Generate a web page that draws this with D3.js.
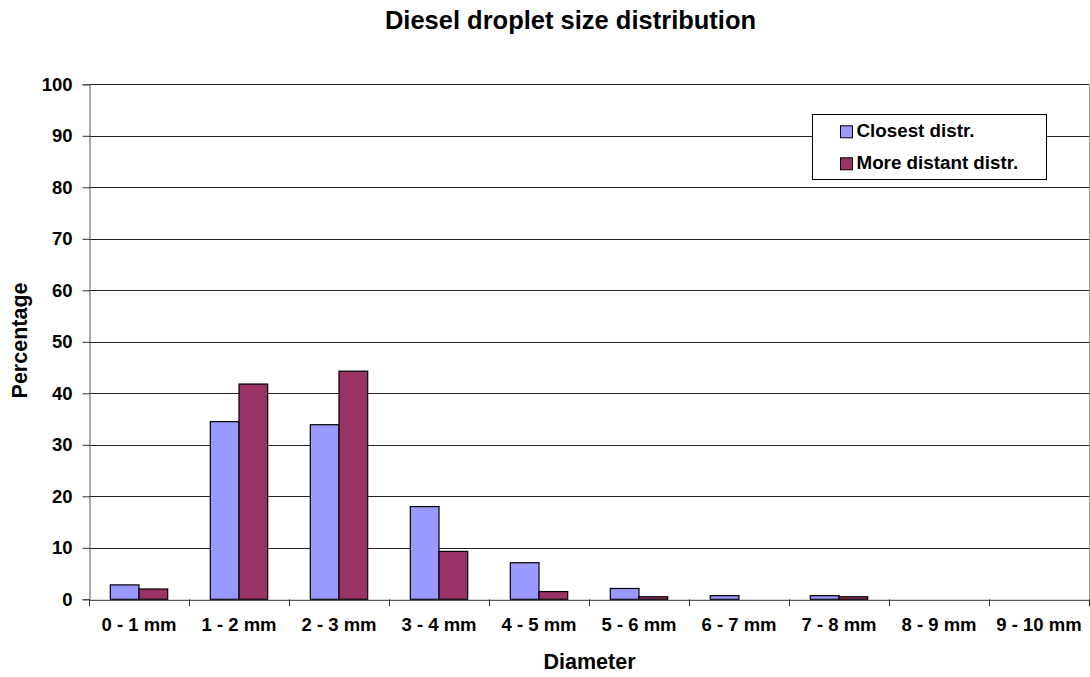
<!DOCTYPE html>
<html><head><meta charset="utf-8">
<script src="https://cdn.jsdelivr.net/npm/d3@7"></script>
<style>body{margin:0;background:#fff}svg{display:block;font-family:Arial,"Liberation Sans",sans-serif}</style>
</head><body><svg id="c" width="1090" height="677"></svg>
<script>
const categories = ["0 - 1 mm","1 - 2 mm","2 - 3 mm","3 - 4 mm","4 - 5 mm","5 - 6 mm","6 - 7 mm","7 - 8 mm","8 - 9 mm","9 - 10 mm"];
const closest = [2.8, 34.5, 33.9, 18.0, 7.1, 2.1, 0.7, 0.7, 0, 0];
const distant = [2.0, 41.8, 44.3, 9.3, 1.5, 0.5, 0, 0.5, 0, 0];
const seriesNames = ["Closest distr.", "More distant distr."];
const seriesColors = ["#9999FF", "#993366"];
const yTicks = [0,10,20,30,40,50,60,70,80,90,100];

const FONT = "Arial, 'Liberation Sans', sans-serif";
const svg = d3.select("#c");
const m = {l:89, r:1089, t:84.3, b:599.3};
const x = d3.scaleBand().domain(categories).range([m.l, m.r]).paddingInner(0).paddingOuter(0);
const y = d3.scaleLinear().domain([0,100]).range([m.b, m.t]);

// gridlines
svg.append("g").selectAll("line").data(yTicks.filter(d=>d>0)).join("line")
  .attr("x1", m.l).attr("x2", m.r).attr("y1", d=>Math.round(y(d))+0.5).attr("y2", d=>Math.round(y(d))+0.5)
  .attr("stroke","#222").attr("stroke-width",1);
// right border
svg.append("line").attr("x1",m.r+0.5).attr("x2",m.r+0.5).attr("y1",m.t).attr("y2",m.b).attr("stroke","#999");

// bars
const data = [closest, distant];
const bandPad = 0.213 * x.bandwidth(), barW = 0.287 * x.bandwidth();
data.forEach((vals, si) => {
  const pts = vals.map((v,i) => ({v, c: categories[i]})).filter(d => d.v > 0);
  svg.append("g").selectAll("rect").data(pts).join("rect")
    .attr("x", d => x(d.c) + bandPad + si*barW)
    .attr("y", d => y(d.v))
    .attr("width", barW)
    .attr("height", d => m.b - y(d.v))
    .attr("fill", seriesColors[si])
    .attr("stroke", "#000").attr("stroke-width", 1.2);
});

// y axis
const yAxis = svg.append("g").attr("transform",`translate(${m.l+0.5},0)`)
  .call(d3.axisLeft(y).tickValues(yTicks).tickSize(7).tickPadding(10));
yAxis.select(".domain").attr("stroke","#555");
yAxis.selectAll(".tick line").attr("stroke","#333");
yAxis.selectAll("text").attr("font-size",18.5).attr("font-weight","bold").attr("fill","#000").attr("font-family",FONT);

// x axis
const xAxis = svg.append("g").attr("transform",`translate(0,${m.b+0.5})`)
  .call(d3.axisBottom(x).tickSize(0).tickPadding(18));
xAxis.select(".domain").attr("stroke","#333");
xAxis.selectAll("text").attr("font-size",18.5).attr("font-weight","bold").attr("fill","#000").attr("font-family",FONT);
const bounds = categories.map(c => x(c)).concat([m.r]);
svg.append("g").selectAll("line").data(bounds).join("line")
  .attr("x1", d=>Math.round(d)+0.5).attr("x2", d=>Math.round(d)+0.5)
  .attr("y1", m.b).attr("y2", m.b+7).attr("stroke","#333");

// titles
svg.append("text").attr("x",570.5).attr("y",29).attr("text-anchor","middle")
  .attr("font-size",25.5).attr("font-weight","bold").text("Diesel droplet size distribution");
svg.append("text").attr("x",589.5).attr("y",669).attr("text-anchor","middle")
  .attr("font-size",21.5).attr("font-weight","bold").text("Diameter");
svg.append("text").attr("transform","translate(27,340.5) rotate(-90)").attr("text-anchor","middle")
  .attr("font-size",21.5).attr("font-weight","bold").text("Percentage");

// legend
const lg = svg.append("g");
lg.append("rect").attr("x",812.5).attr("y",114.5).attr("width",234).attr("height",65)
  .attr("fill","#fff").attr("stroke","#000");
seriesNames.forEach((n,i) => {
  const base = 137.3 + i*32;
  lg.append("rect").attr("x",840.5).attr("y",base-11.5).attr("width",12).attr("height",12)
    .attr("fill",seriesColors[i]).attr("stroke","#000");
  lg.append("text").attr("x",856.5).attr("y",base).attr("font-size",18.8).attr("font-weight","bold").text(n);
});
</script></body></html>
